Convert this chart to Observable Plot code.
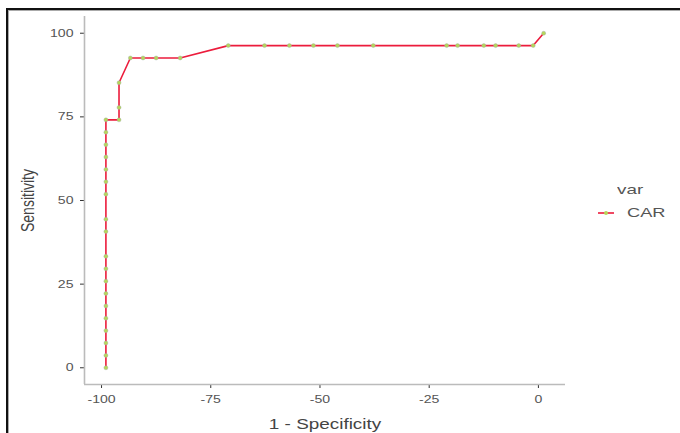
<!DOCTYPE html>
<html>
<head>
<meta charset="utf-8">
<script src="https://cdn.jsdelivr.net/npm/d3@7"></script>
<script src="https://cdn.jsdelivr.net/npm/@observablehq/plot@0.6"></script>
<style>
  html, body { margin: 0; padding: 0; background: #fff; }
  #wrap { position: relative; width: 680px; height: 433px; overflow: hidden; font-family: "Liberation Sans", Arial, sans-serif; }
  #frame { position: absolute; left: 6px; top: 8px; width: 700px; height: 460px; border-top: 2px solid #111; border-left: 2px solid #111; box-shadow: inset 1px 1px 0 #aaa; pointer-events: none; }
  #legend { position: absolute; left: 596px; top: 180px; color: #555; font-size: 13px; }
  #legend .title { position: absolute; left: 21px; top: 2px; transform: scaleX(1.45); transform-origin: 0 0; }
  #legend .key { position: absolute; left: 2px; top: 26px; width: 16px; height: 14px; }
  #legend .lab { position: absolute; left: 31px; top: 25px; transform: scaleX(1.4); transform-origin: 0 0; }
</style>
</head>
<body>
<div id="wrap"></div>
<script>
// ROC-type curve for CAR
const specX = [-99, -99, -99, -99, -99, -99, -99, -99, -99, -99, -99, -99, -99, -99, -99, -99, -99, -99, -99,
               -96, -96, -96, -93.4, -90.5, -87.5, -82, -71, -62.7, -57, -51.5, -46, -37.8, -21, -18.5, -12.5, -9.8, -4.5, -1.2, 1.2];
const sensY = [0, 3.7, 7.4, 11.1, 14.8, 18.5, 22.2, 25.9, 29.6, 33.3, 40.7, 44.4, 51.9, 55.6, 59.3, 63.0, 66.7, 70.4, 74.1,
               74.1, 77.8, 85.2, 92.6, 92.6, 92.6, 92.6, 96.3, 96.3, 96.3, 96.3, 96.3, 96.3, 96.3, 96.3, 96.3, 96.3, 96.3, 96.3, 100];
const seriesName = "CAR";
const xTicks = [-100, -75, -50, -25, 0];
const yTicks = [0, 25, 50, 75, 100];
const xDomain = [-103.9, 6.2];
const yDomain = [-5, 105];
const xTitle = "1 - Specificity";
const yTitle = "Sensitivity";
const legendTitle = "var";

const data = specX.map((x, i) => ({x, y: sensY[i], var: seriesName}));

const lineColor = "#ec1c3c";
const pointColor = "#b7d65a";

const chart = Plot.plot({
  width: 680,
  height: 433,
  marginLeft: 84,
  marginRight: 115,
  marginTop: 16,
  marginBottom: 49,
  style: { fontFamily: "Liberation Sans, Arial, sans-serif", fontSize: "11px", color: "#555", background: "transparent" },
  x: { domain: xDomain, ticks: xTicks, tickFormat: d => String(d), tickSize: 4, tickPadding: 7,
       label: xTitle, labelArrow: false, labelAnchor: "center", labelOffset: 44 },
  y: { domain: yDomain, ticks: yTicks, tickFormat: d => String(d), tickSize: 4, tickPadding: 7,
       label: yTitle, labelArrow: false, labelAnchor: "center", labelOffset: 62 },
  marks: [
    Plot.ruleX([xDomain[0]], {stroke: "#bbb", strokeWidth: 1.6}),
    Plot.ruleY([yDomain[0]], {stroke: "#bbb", strokeWidth: 1.6}),
    Plot.line(data, {x: "x", y: "y", stroke: lineColor, strokeWidth: 1.6}),
    Plot.dot(data, {x: "x", y: "y", r: 2, fill: pointColor, stroke: "#9aa", strokeWidth: 0.4})
  ]
});

const wrap = document.getElementById("wrap");
wrap.appendChild(chart);
const svg = chart.tagName.toLowerCase() === "svg" ? chart : chart.querySelector("svg");

// strip any arrows, style titles
svg.querySelectorAll('[aria-label="x-axis label"] text, [aria-label="y-axis label"] text').forEach(t => {
  t.textContent = t.textContent.replace(/\s*[←→↑↓]\s*/g, "");
  t.setAttribute("font-size", "14px");
  t.setAttribute("fill", "#444");
});
svg.querySelectorAll('[aria-label="x-axis tick"] path, [aria-label="y-axis tick"] path').forEach(p => {
  p.setAttribute("stroke", "#333");
});

// horizontal stretch of text (the reference picture is widened)
const NS = "http://www.w3.org/2000/svg";
function stretch(text, s, anchor) {
  const r = text.getBoundingClientRect();
  const sr = svg.getBoundingClientRect();
  const ctm = text.parentNode.getScreenCTM();
  const sx = anchor === "end" ? r.right : anchor === "start" ? r.left : (r.left + r.right) / 2;
  const px = (sx - ctm.e) / ctm.a;
  const g = document.createElementNS(NS, "g");
  g.setAttribute("transform", `translate(${px},0) scale(${s},1) translate(${-px},0)`);
  text.parentNode.insertBefore(g, text);
  g.appendChild(text);
}
svg.querySelectorAll('[aria-label="y-axis tick label"] text').forEach(t => stretch(t, 1.28, "end"));
svg.querySelectorAll('[aria-label="x-axis tick label"] text').forEach(t => stretch(t, 1.28, "middle"));
svg.querySelectorAll('[aria-label="x-axis label"] text').forEach(t => stretch(t, 1.35, "middle"));
svg.querySelectorAll('[aria-label="y-axis label"] text').forEach(t => stretch(t, 1.35, "middle"));

const frame = document.createElement("div");
frame.id = "frame";
wrap.appendChild(frame);

const legend = document.createElement("div");
legend.id = "legend";
legend.innerHTML = `<div class="title">${legendTitle}</div>
  <svg class="key" viewBox="0 0 16 14"><line x1="0" x2="16" y1="7" y2="7" stroke="${lineColor}" stroke-width="1.6"/><circle cx="8" cy="7" r="2" fill="${pointColor}"/></svg>
  <div class="lab">${seriesName}</div>`;
wrap.appendChild(legend);
</script>
</body>
</html>
